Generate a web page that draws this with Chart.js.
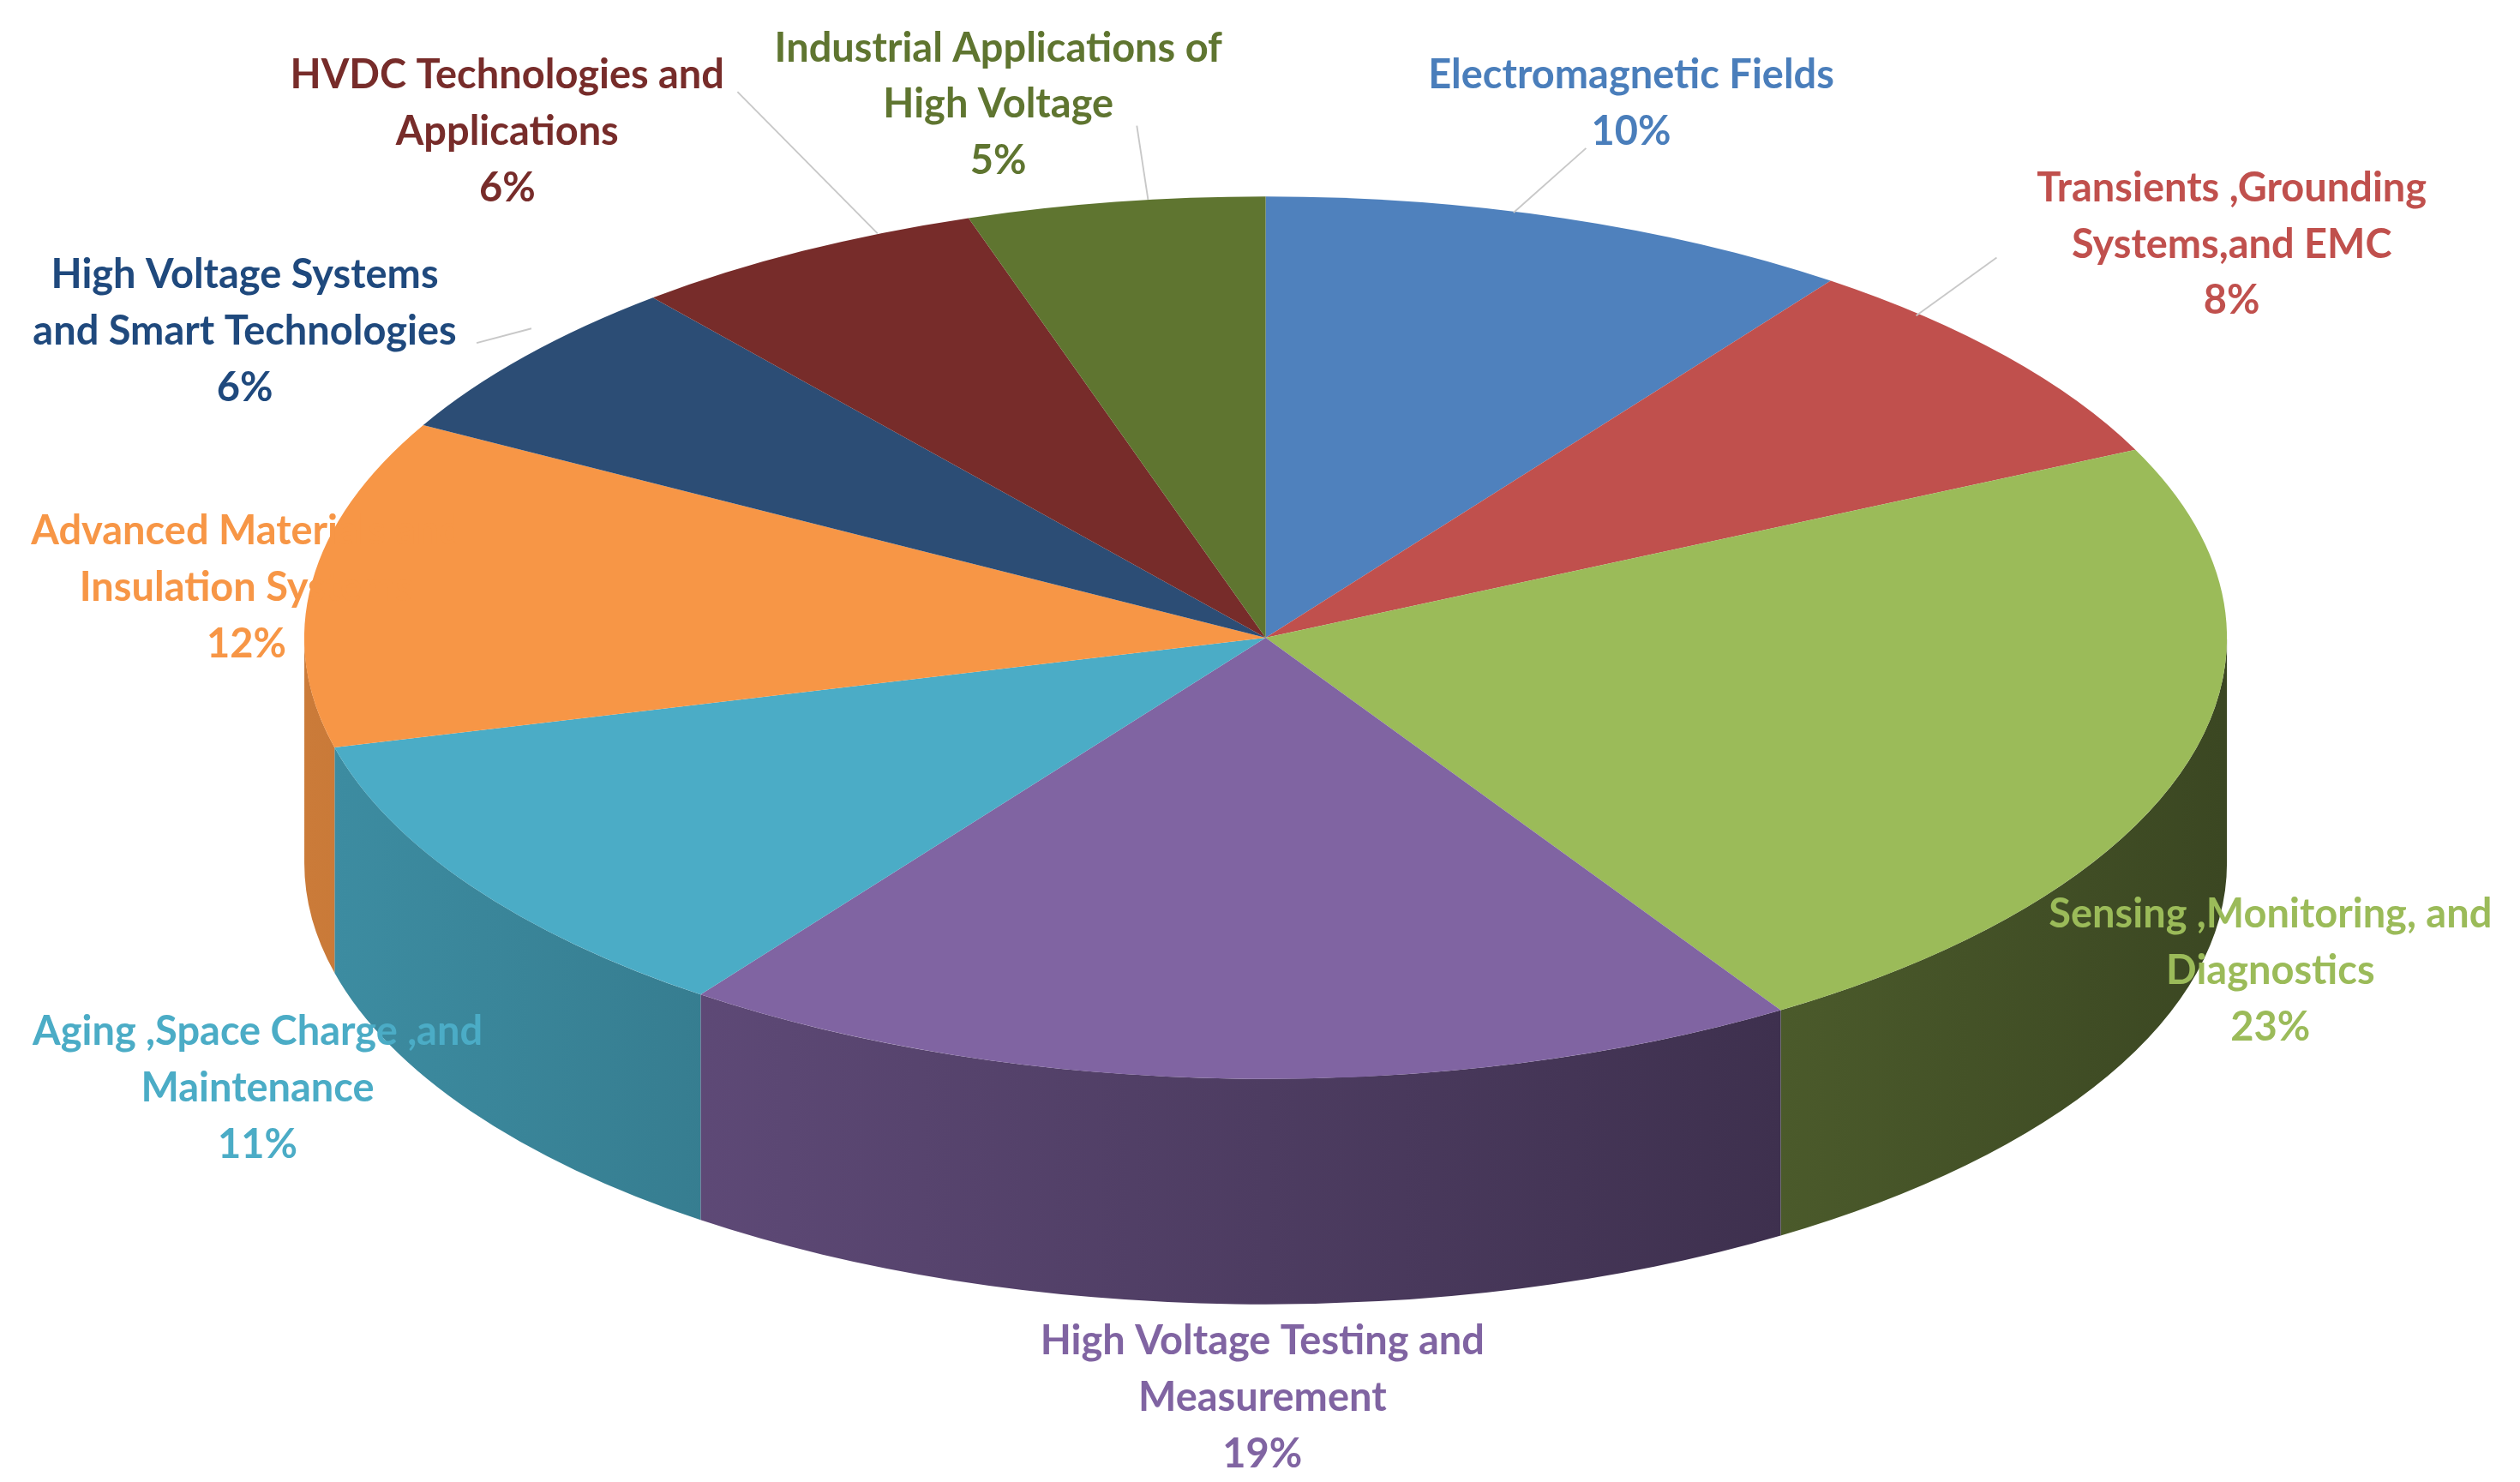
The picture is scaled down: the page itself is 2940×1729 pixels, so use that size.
<!DOCTYPE html>
<html><head><meta charset="utf-8">
<script src="https://cdn.jsdelivr.net/npm/chart.js@4.4.1/dist/chart.umd.min.js"></script>
<style>html,body{margin:0;padding:0;background:#fff;}canvas{display:block;}</style>
</head><body>
<canvas id="c" width="2940" height="1729" style="width:2940px;height:1729px"></canvas>
<script>
const categories = [
  ["Electromagnetic Fields"],
  ["Transients ,Grounding", "Systems,and EMC"],
  ["Sensing ,Monitoring, and", "Diagnostics"],
  ["High Voltage Testing and", "Measurement"],
  ["Aging ,Space Charge ,and", "Maintenance"],
  ["Advanced Materials and", "Insulation Systems"],
  ["High Voltage Systems", "and Smart Technologies"],
  ["HVDC Technologies and", "Applications"],
  ["Industrial Applications of", "High Voltage"]
];
const shares = [10, 8, 23, 19, 11, 12, 6, 6, 5];
const colors = ["#4F81BD","#C0504D","#9BBB59","#8064A2","#4BACC6","#F79646","#2C4D75","#772C2A","#5F7530"];
const labelColors = ["#4A7EBB","#C0504D","#9BBB59","#8064A2","#4BACC6","#F79646","#1F497D","#772C2A","#5F7530"];
// label layout (reference-pixel space)
const labelPos = [[1013,47],[1386,117],[1410,568],[784,833],[160,641],[153,330],[152,171],[315,47],[620,30]];
const leaders = [[985,92,940,132],[1240,160,1190,196],null,null,null,null,[296,213,330,204],[458,57,545,145],[706,78,713,124]];

const S = 2940/1565, CX = 786, CY = 396, RX = 597, RY = 274, DEPTH = 140;

function shade(hex, f){
  const n = parseInt(hex.slice(1),16);
  const r=(n>>16)&255,g=(n>>8)&255,b=n&255;
  return `rgb(${Math.round(r*f)},${Math.round(g*f)},${Math.round(b*f)})`;
}

const pie3d = {
  id:'pie3d',
  beforeDatasetsDraw(chart){
    const ctx = chart.ctx, meta = chart.getDatasetMeta(0);
    const el0 = meta.data[0];
    const cx = el0.x, cy = el0.y, r = el0.outerRadius;
    ctx.save();
    ctx.scale(S,S);
    meta.data.forEach((el,i)=>{
      const a = Math.max(el.startAngle,0), b = Math.min(el.endAngle,Math.PI);
      if (b <= a) return;
      const g = ctx.createLinearGradient(CX-RX,0,CX+RX,0);
      g.addColorStop(0, shade(colors[i],0.82));
      g.addColorStop(0.5, shade(colors[i],0.6));
      g.addColorStop(1, shade(colors[i],0.38));
      ctx.beginPath();
      ctx.ellipse(CX,CY,RX,RY,0,a,b,false);
      ctx.ellipse(CX,CY+DEPTH,RX,RY,0,b,a,true);
      ctx.closePath();
      ctx.fillStyle = g; ctx.fill();
    });
    ctx.translate(CX,CY);
    ctx.scale(RX/r, RY/r);
    ctx.translate(-cx,-cy);
  },
  afterDatasetsDraw(chart){
    const ctx = chart.ctx;
    ctx.restore();
    ctx.save();
    ctx.scale(S,S);
    ctx.strokeStyle = "#c8c8c8"; ctx.lineWidth = 1;
    leaders.forEach(l=>{ if(!l) return; ctx.beginPath(); ctx.moveTo(l[0],l[1]); ctx.lineTo(l[2],l[3]); ctx.stroke(); });
    ctx.font = "bold 25px Lato";
    ctx.textAlign = "center"; ctx.textBaseline = "middle";
    categories.forEach((lines,i)=>{
      ctx.fillStyle = labelColors[i];
      const [x,y] = labelPos[i];
      const all = lines.concat([shares[i]+"%"]);
      all.forEach((t,k)=>ctx.fillText(t,x,y+k*35));
    });
    ctx.restore();
  }
};

new Chart(document.getElementById('c'), {
  type:'pie',
  data:{ labels: categories.map(l=>l.join(' ')), datasets:[{ data: shares, backgroundColor: colors, borderWidth: 0 }]},
  options:{ responsive:false, animation:false, plugins:{ legend:{display:false}, tooltip:{enabled:false} } },
  plugins:[pie3d]
});
</script>
</body></html>
